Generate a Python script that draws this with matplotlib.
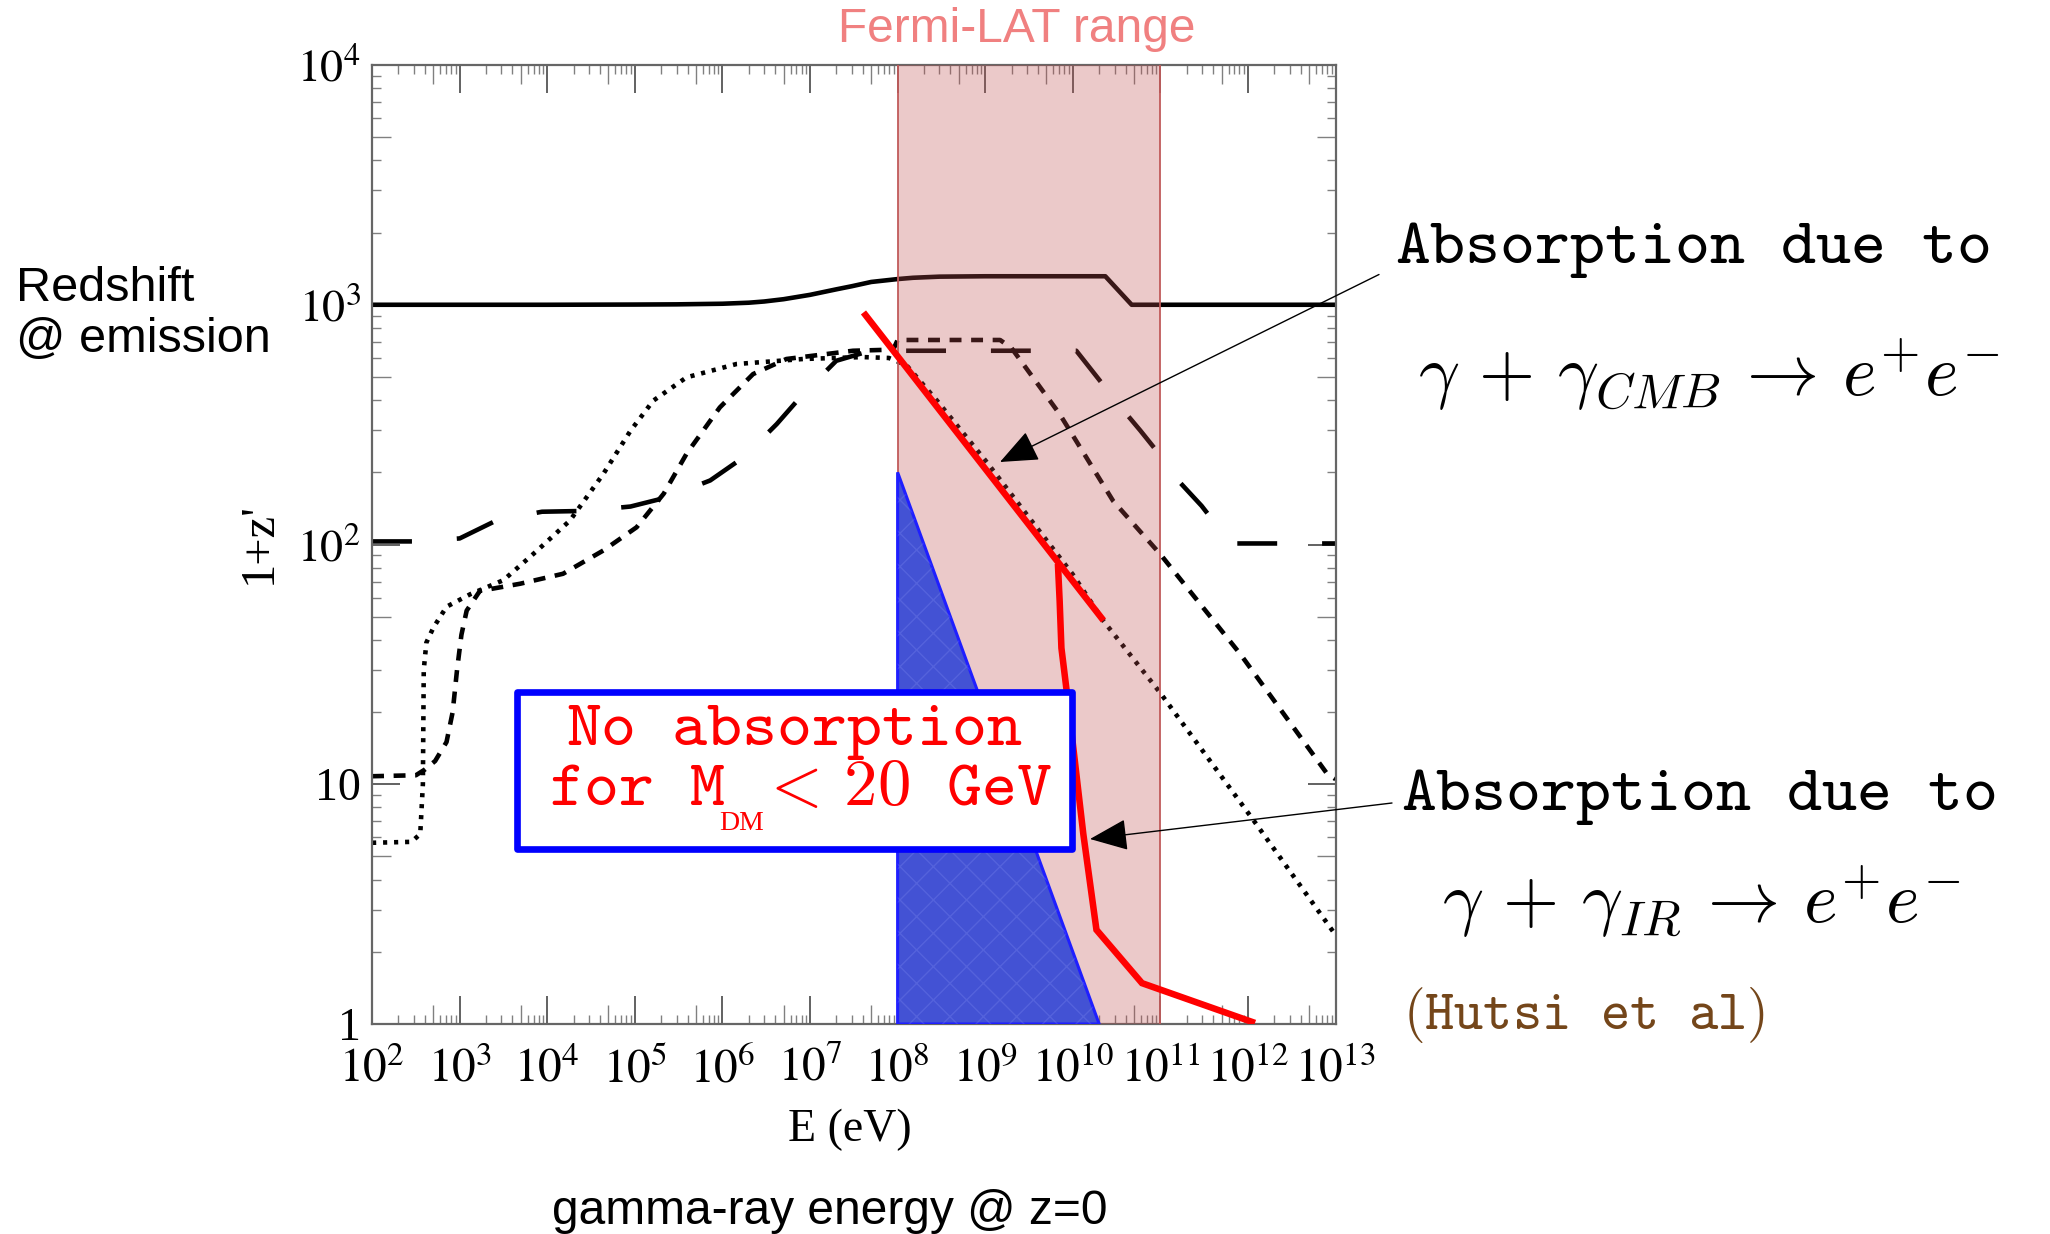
import numpy as np
import matplotlib.pyplot as plt
from matplotlib.patches import Rectangle, Polygon
from matplotlib.ticker import LogLocator, FixedLocator, NullFormatter, NullLocator, FuncFormatter

plt.rcParams['mathtext.fontset'] = 'stix'
plt.rcParams['font.family'] = ['Liberation Serif', 'DejaVu Serif']

# gamma-ray energy at z=0 (eV) and redshift at emission 1+z' for each curve
solid_E = [1e2, 1e4, 1e5, 3e5, 1e6, 2e6, 3e6, 5e6, 1e7, 2e7, 3e7, 5e7, 1e8, 1.5e8, 3e8,
           1e9, 1e10, 2.35e10, 4.7e10, 1e11, 1e13]
solid_z = [1000, 1000, 1002, 1004, 1010, 1020, 1032, 1055, 1100, 1160, 1195, 1245, 1280, 1296, 1310,
           1315, 1315, 1315, 1000, 1000, 1000]

dot_logE = [2.0, 2.45, 2.55, 2.58, 2.59, 2.62, 2.70, 2.85, 3.12, 3.50, 3.88, 4.26, 4.64, 4.95,
            5.21, 5.59, 6.16, 6.92, 7.6, 7.9, 8.1, 8.45, 9.02, 9.47, 10.0, 10.35, 11.0, 12.06, 13.0]
dot_z = [5.7, 5.75, 6.2, 10, 30, 39, 45, 55, 62, 71, 94, 126, 197, 298,
         398, 498, 566, 594, 605, 600, 560, 398, 220, 134, 75, 48, 24, 7.1, 2.35]

short_logE = [2.0, 2.5, 2.6, 2.72, 2.85, 2.92, 2.97, 3.02, 3.08, 3.23, 3.69, 4.18, 4.64, 5.02,
              5.33, 5.59, 5.97, 6.35, 6.73, 7.49, 7.95, 8.0, 9.17, 9.3, 9.85, 10.46, 11.0, 11.91, 12.9, 13.0]
short_z = [10.8, 10.9, 11.5, 12.5, 15, 20, 30, 42, 53, 64, 68.6, 75.5, 94.4, 118,
           163, 239, 373, 514, 594, 643, 650, 713, 713, 660, 350, 152, 91, 35, 11.1, 10.5]

long_logE = [2.0, 2.49, 3.0, 3.42, 3.94, 4.41, 4.95, 5.36, 5.86, 6.24, 6.62, 6.92, 7.30, 7.69,
             10.04, 10.31, 10.50, 10.77, 11.0, 11.22, 11.47, 11.76, 11.8, 13.0]
long_z = [103, 103, 106, 126, 137, 138, 144, 157, 185, 231, 318, 424, 584, 643,
          643, 482, 392, 299, 235, 182, 145, 106, 101, 101]

# absorption thresholds
cmb_E = [10**7.61, 10**10.35]
cmb_z = [929, 48.2]
ir_logE = [9.83, 9.85, 9.87, 9.93, 10.0, 10.12, 10.27, 10.79, 12.08]
ir_z = [83, 58, 37, 24.5, 14.8, 6.2, 2.47, 1.48, 1.01]

# region with no absorption below M_DM = 20 GeV
free_E = [1e8, 1e8, 2e10]
free_z = [1, 200, 1]

fermi_lo, fermi_hi = 1e8, 1e11

fig = plt.figure(figsize=(20.5, 12.34), dpi=100)
ax = fig.add_axes([0.1815, 0.1702, 0.4700, 0.7771])
ax.set_xscale('log')
ax.set_yscale('log')

lw = 3.3
ax.plot(solid_E, solid_z, color='black', lw=lw, zorder=2)
ax.plot(10**np.array(dot_logE), dot_z, color='black', lw=lw, dashes=(0.9, 1.5), zorder=2)
ax.plot(10**np.array(short_logE), short_z, color='black', lw=lw, dashes=(2.6, 2.1), zorder=2)
ax.plot(10**np.array(long_logE), long_z, color='black', lw=lw, dashes=(8.7, 9.8), zorder=2)

# Fermi-LAT band laid over the curves
ax.axvspan(fermi_lo, fermi_hi, facecolor=(0.75, 0.30, 0.30), alpha=0.30, lw=0, zorder=3)
for xv in (fermi_lo, fermi_hi):
    ax.axvline(xv, color='#c05a5a', lw=1.3, zorder=3)

tri = np.column_stack([free_E, free_z])
ax.add_patch(Polygon(tri, closed=True, facecolor='#4352d4', edgecolor='#1f1fff', lw=2.2, zorder=4))
ax.add_patch(Polygon(tri, closed=True, facecolor='none', edgecolor=(0.65, 0.68, 1.0, 0.18),
                     lw=0, hatch='x', zorder=4))

ax.plot(cmb_E, cmb_z, color='#ff0000', lw=4.7, solid_capstyle='butt', zorder=5)
ax.plot(10**np.array(ir_logE), ir_z, color='#ff0000', lw=4.7, solid_capstyle='butt',
        solid_joinstyle='miter', zorder=5)

ax.set_xlim(1e2, 1e13)
ax.set_ylim(1, 1e4)


def pow_label(v, pos):
    n = int(round(np.log10(v)))
    if n == 0:
        return '1'
    if n == 1:
        return '10'
    return r'$10^{%d}$' % n


for axis in (ax.xaxis, ax.yaxis):
    axis.set_major_locator(LogLocator(base=10, numticks=30))
    axis.set_minor_locator(LogLocator(base=10, subs=[2, 3, 4, 6, 7, 8, 9], numticks=30))
    axis.set_minor_formatter(NullFormatter())
    axis.set_major_formatter(FuncFormatter(pow_label))

ax.tick_params(which='major', direction='in', length=20, width=1.3, color='#555555',
               top=True, right=True)
ax.tick_params(axis='x', which='major', labelsize=34, pad=17)
ax.tick_params(axis='y', which='major', labelsize=33, pad=8)
ax.tick_params(which='minor', direction='in', length=6.5, width=1.0, color='#808080',
               top=True, right=True)
for sp in ax.spines.values():
    sp.set_color('#666666')
    sp.set_linewidth(1.6)

# medium-length ticks at 5 x 10^n
five_x = [5 * 10**k for k in range(2, 13)]
five_y = [5 * 10**k for k in range(0, 4)]
for side in ('bottom', 'top'):
    sec = ax.secondary_xaxis(side)
    sec.xaxis.set_major_locator(FixedLocator(five_x))
    sec.xaxis.set_minor_locator(NullLocator())
    sec.tick_params(direction='in', length=13.5, width=1.0, color='#808080',
                    labelbottom=False, labeltop=False)
    sec.spines[side].set_visible(False)
for side in ('left', 'right'):
    sec = ax.secondary_yaxis(side)
    sec.yaxis.set_major_locator(FixedLocator(five_y))
    sec.yaxis.set_minor_locator(NullLocator())
    sec.tick_params(direction='in', length=13.5, width=1.0, color='#808080',
                    labelleft=False, labelright=False)
    sec.spines[side].set_visible(False)

ax.set_xlabel('E (eV)', fontsize=33)
ax.xaxis.set_label_coords(0.496, -0.0885)
ax.set_ylabel("1+z'", fontsize=35)
ax.yaxis.set_label_coords(-0.095, 0.502)

# box stating the no-absorption mass range
ax.add_patch(Rectangle((0.1508, 0.1828), 0.5753, 0.1631, transform=ax.transAxes,
                       facecolor='white', edgecolor='#0000ff', lw=4.8, joinstyle='round', zorder=6))
sp_tt = r'\ \;'
fig.text(0.3876, 0.3963, r'$\mathtt{No' + sp_tt + r'absorption}$', color='red', fontsize=48,
         ha='center', va='baseline', math_fontfamily='cm', zorder=7)
fig.text(549 / 2050, 0.3477, r'$\mathtt{for' + sp_tt + r'M}$',
         color='red', fontsize=48, ha='left', va='baseline', math_fontfamily='cm', zorder=7)
fig.text(759 / 2050, 0.3477, r'$\mathtt{<\,20' + sp_tt + r'GeV}$',
         color='red', fontsize=48, ha='left', va='baseline', math_fontfamily='cm', zorder=7)
fig.text(742 / 2050, 1 - 830 / 1234, 'DM', color='red', fontsize=20, ha='center', va='baseline',
         family='Liberation Serif', zorder=7)

sans = ['Liberation Sans', 'DejaVu Sans']
fig.text(0.496, 1 - 30 / 1234, 'Fermi-LAT range', color='#f08080', fontsize=34.5, family=sans,
         ha='center', va='center')
fig.text(0.0078, 0.7455, 'Redshift\n@ emission', color='black', fontsize=35, family=sans,
         ha='left', va='center', linespacing=1.15)
fig.text(0.405, 1 - 1212 / 1234, 'gamma-ray energy @ z=0', color='black', fontsize=34.5, family=sans,
         ha='center', va='center')

cmb_eq = r'$\gamma\,+\,\gamma_{CMB}\,\rightarrow\,e^{+}e^{-}$'
ir_eq = r'$\gamma\,+\,\gamma_{IR}\,\rightarrow\,e^{+}e^{-}$'
fig.text(1395 / 2050, 1 - 263 / 1234, r'$\mathtt{Absorption' + sp_tt + 'due' + sp_tt + 'to}$',
         fontsize=48, ha='left', va='baseline', math_fontfamily='cm')
fig.text(1418 / 2050, 1 - 375 / 1234, cmb_eq, fontsize=52, ha='left', va='center', math_fontfamily='cm')
fig.text(1401 / 2050, 1 - 810 / 1234, r'$\mathtt{Absorption' + sp_tt + 'due' + sp_tt + 'to}$',
         fontsize=48, ha='left', va='baseline', math_fontfamily='cm')
fig.text(1442 / 2050, 1 - 902 / 1234, ir_eq, fontsize=52, ha='left', va='center', math_fontfamily='cm')
fig.text(1403 / 2050, 1 - 1029 / 1234, r'$\mathtt{(Hutsi' + sp_tt + 'et' + sp_tt + 'al)}$',
         color='#74461a', fontsize=40, ha='left', va='baseline', math_fontfamily='cm')

arrow = dict(arrowstyle='-|>,head_length=0.6,head_width=0.25', color='black', lw=1.0,
             mutation_scale=40, shrinkA=0, shrinkB=0)
ax.annotate('', xy=(1000 / 2050, 1 - 462 / 1234), xycoords='figure fraction',
            xytext=(1379 / 2050, 1 - 274.5 / 1234), textcoords='figure fraction',
            arrowprops=arrow, zorder=8)
ax.annotate('', xy=(1090 / 2050, 1 - 839 / 1234), xycoords='figure fraction',
            xytext=(1392 / 2050, 1 - 803 / 1234), textcoords='figure fraction',
            arrowprops=arrow, zorder=8)

fig.savefig('out.png', dpi=100)
